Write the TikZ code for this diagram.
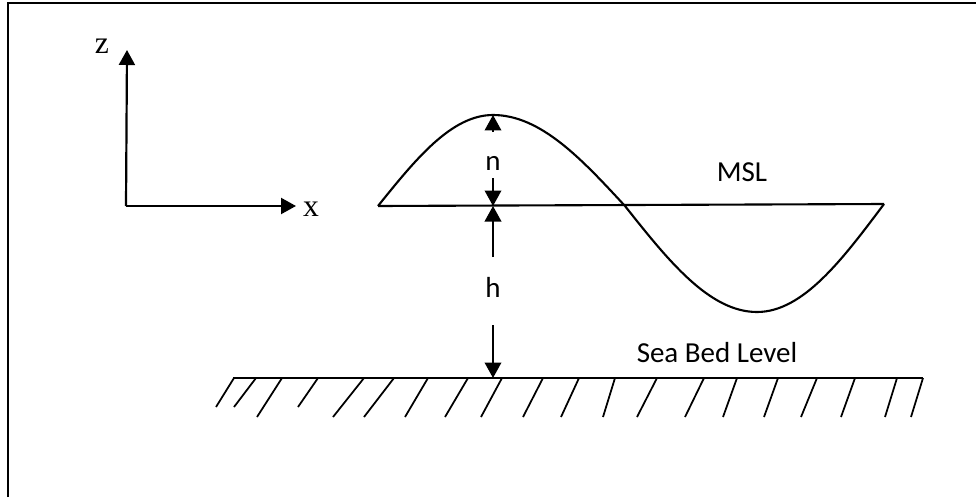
\documentclass[tikz,border=0pt]{standalone}
\usepackage{fontspec}
\setmainfont{Carlito}
\newfontfamily\axfont{Liberation Serif}
\usetikzlibrary{arrows.meta}
\newcommand{\MSLy}{206}
\newcommand{\BEDy}{378}
\newcommand{\Xh}{493}
\newcommand{\lblsize}{\fontsize{16.5}{20}\selectfont}
\newcommand{\axsize}{\fontsize{18}{22}\selectfont}
\begin{document}
\begin{tikzpicture}[
    x=0.02cm, y=-0.02cm,
    frame/.style={draw=black, line width=1.1pt},
    axis/.style={draw=black, line width=1.25pt, -{Triangle[width=0.32cm, length=0.3cm]}},
    dim/.style={draw=black, line width=1.2pt, -{Triangle[width=0.33cm, length=0.31cm]}},
    wave/.style={draw=black, line width=1.2pt},
    bed/.style={draw=black, line width=1pt},
    hatch/.style={draw=black, line width=1pt},
    lbl/.style={font=\lblsize, inner sep=0pt},
    axlbl/.style={font=\axfont\axsize, inner sep=0pt},
  ]
  \useasboundingbox (0,0) rectangle (976,497);

  %% ================= frame (cut at right and bottom) =================
  \draw[frame] (8,497) -- (8,3) -- (976,3);

  %% ================= axes =================
  \coordinate (O) at (126,\MSLy);
  \coordinate (ztip) at (127,50);
  \coordinate (xtip) at (296,\MSLy);
  \draw[axis] (O) -- (ztip);
  \draw[axis] (O) -- (xtip);
  \node[axlbl] (zlab) at (102,46) {z};
  \node[axlbl] (xlab) at (311,209) {x};

  %% ================= wave and mean sea level =================
  \coordinate (wstart) at (378,\MSLy);
  \coordinate (crest) at (\Xh,115);
  \coordinate (zero) at (625,\MSLy);
  \coordinate (trough) at (757,312);
  \coordinate (wend) at (884,204);
  \draw[wave] (wstart) -- (wend);
  \draw[wave] (wstart) sin (crest) cos (zero) sin (trough) cos (wend);
  \node[lbl] (msl) at (742,172) {MSL};

  %% ================= dimension arrows n and h =================
  \coordinate (mslpt) at (\Xh,\MSLy);
  \coordinate (bedpt) at (\Xh,\BEDy);
  \coordinate (ntail) at (\Xh,132);
  \coordinate (ndown) at (\Xh,178);
  \coordinate (hup) at (\Xh,257);
  \coordinate (hdown) at (\Xh,325);
  \draw[dim] (ntail) -- (crest);
  \draw[dim] (ndown) -- (mslpt);
  \draw[dim] (hup) -- (mslpt);
  \draw[dim] (hdown) -- (bedpt);
  \node[lbl] (nlab) at (\Xh,163) {n};
  \node[lbl] (hlab) at (\Xh,287) {h};

  %% ================= sea bed =================
  \draw[bed] (233,\BEDy) -- (923,\BEDy);
  % hatching: top x / bottom x / bottom y
  \foreach \t/\b/\d in {234/216/407, 256/234/407, 282/257/417, 318/298/407,
      364/333/417, 394/364/417, 428/405/417, 468/445/417, 502/481/417,
      543/523/417, 579/561/417, 615/603/417, 657/637/417, 704/685/417,
      737/723/417, 778/764/417, 817/801/417, 855/841/417, 897/885/417,
      923/911/417} {
    \draw[hatch] (\t,\BEDy) -- (\b,\d);
  }
  \node[lbl] (bedlab) at (717,353) {Sea Bed Level};

\end{tikzpicture}
\end{document}
